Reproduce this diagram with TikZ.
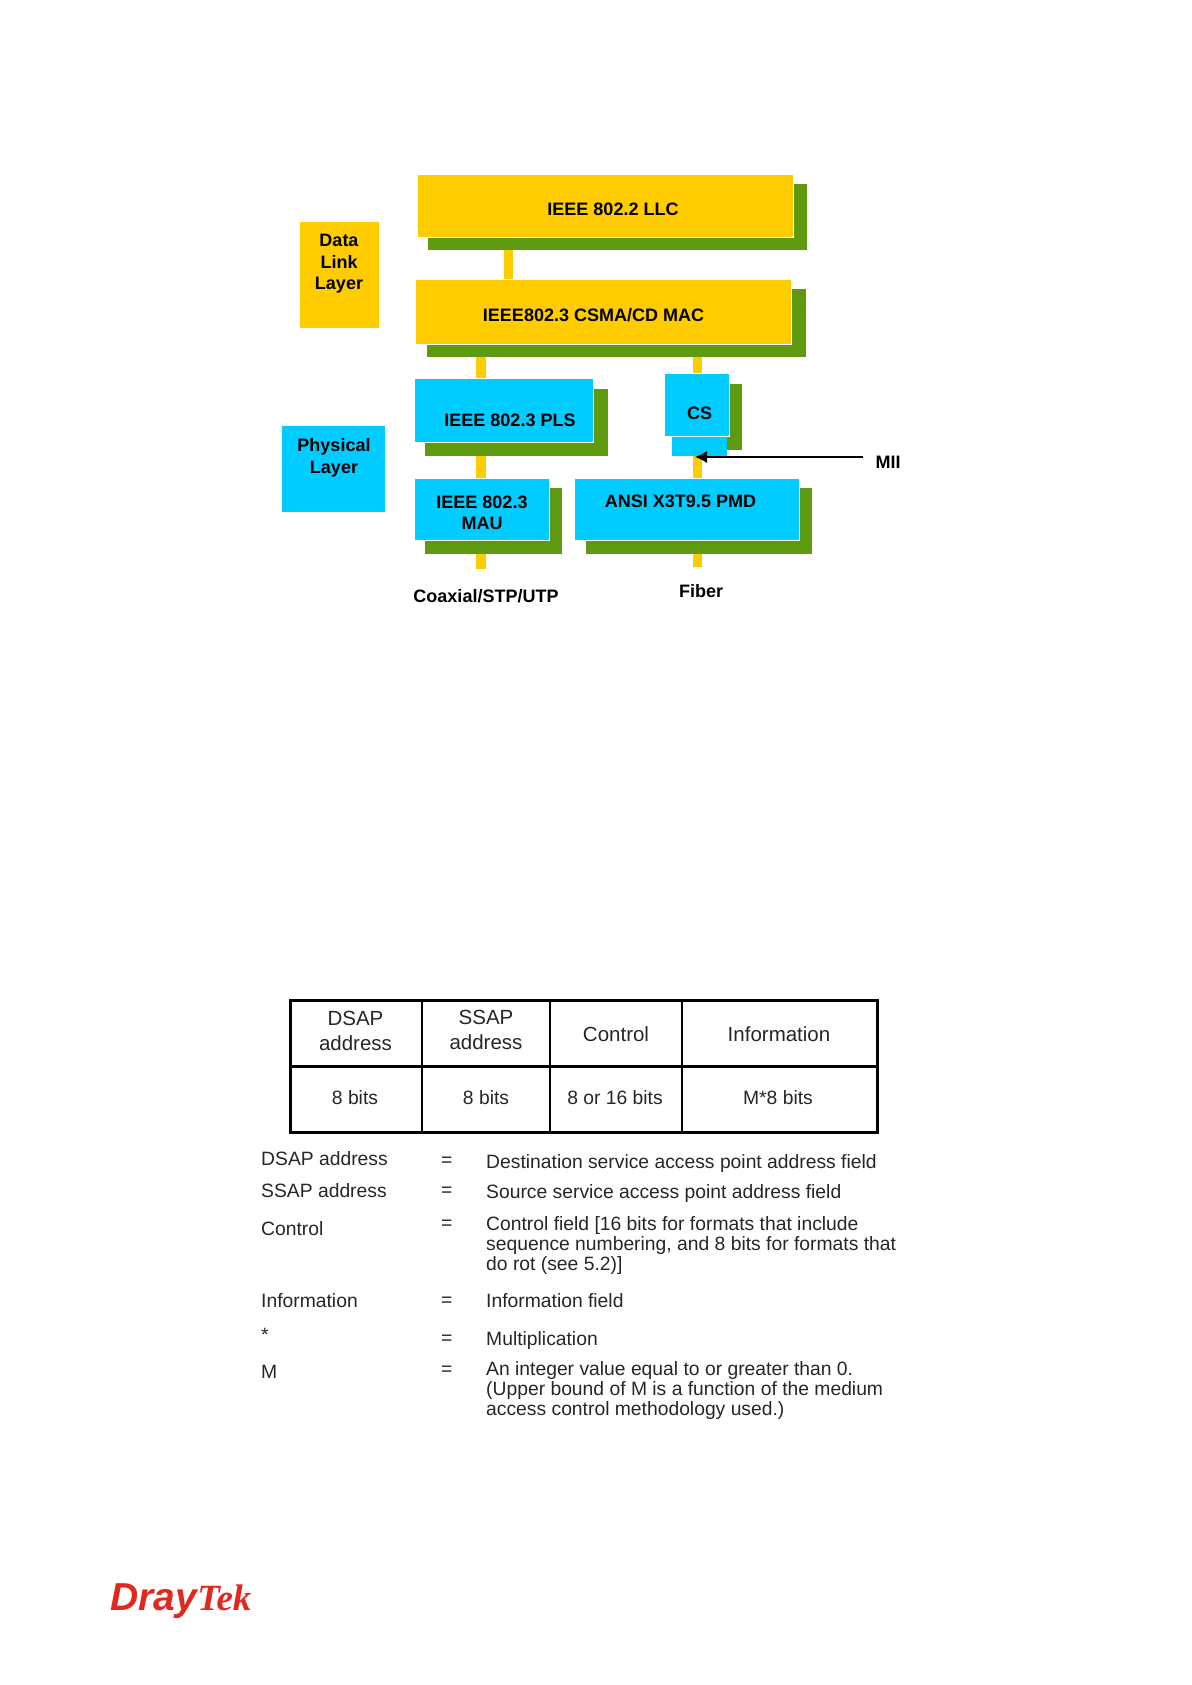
\documentclass[tikz,border=0pt]{standalone}
\usepackage{fontspec}
\setmainfont{Liberation Sans}
\newfontfamily\serifont{Liberation Serif}
\usetikzlibrary{arrows.meta,calc}
\definecolor{ylw}{HTML}{FFCC00}
\definecolor{grn}{HTML}{5F9910}
\definecolor{sky}{HTML}{00CCFF}
\definecolor{logored}{HTML}{E0281E}
\definecolor{ink}{HTML}{262626}
\newcommand{\blk}[6]{\node[#6, minimum width={(#4-#2)*1pt}, minimum height={(#5-#3)*1pt}] (#1) at (#2,#3) {};}
\tikzset{
  blockbase/.style={anchor=north west, inner sep=0pt, outer sep=0pt},
  shadowbox/.style={blockbase, fill=grn},
  ybox/.style={blockbase, fill=ylw, draw=white, line width=0.8pt},
  bbox/.style={blockbase, fill=sky, draw=white, line width=0.8pt},
  flatY/.style={blockbase, fill=ylw},
  flatB/.style={blockbase, fill=sky},
  bar/.style={draw=ylw, line width=9.5pt},
  lbl/.style={inner sep=0pt, align=center, text=black, font=\bfseries\fontsize{18}{21.5}\selectfont},
  cell/.style={inner sep=0pt, align=center, text=ink, font=\fontsize{20.5}{25}\selectfont},
  bits/.style={inner sep=0pt, align=center, text=ink, font=\fontsize{19.3}{25}\selectfont},
  leg/.style={inner sep=0pt, anchor=west, align=left, text=ink, font=\fontsize{19.3}{19.6}\selectfont},
  hb/.style={draw=black, line width=3pt},
  tb/.style={draw=black, line width=1.5pt}
}
\begin{document}
\begin{tikzpicture}[x=1pt,y=-1pt]
\useasboundingbox (0,0) rectangle (1191,1685);
% shadows
\blk{llcS}{428}{184}{806.5}{250}{shadowbox}
\blk{macS}{427}{289}{805.5}{357}{shadowbox}
\blk{plsS}{425}{389}{607.5}{456}{shadowbox}
\blk{csS}{678}{384}{742}{450}{shadowbox}
\blk{mauS}{425}{488}{562}{554}{shadowbox}
\blk{pmdS}{586}{488}{812}{554}{shadowbox}
% connector anchors
\coordinate (xa) at (508.5,0);
\coordinate (xb) at (481,0);
\coordinate (xc) at (697.5,0);
\coordinate (coaxEnd) at (481,569);
\coordinate (fibEnd) at (697.5,567);
% boxes
\blk{llc}{417.6}{174}{793.5}{237.3}{ybox}
\blk{mac}{415.5}{279}{791.5}{344}{ybox}
\blk{pls}{414}{378}{593.5}{442}{bbox}
\blk{csB}{672}{400}{727}{456}{flatB}
\blk{cs}{664}{373}{729}{436}{bbox}
\fill[sky] (csB.north west) rectangle ($(csB.north east)+(0,36)$);
\blk{mau}{414.7}{478}{549}{540}{bbox}
\blk{pmd}{574.5}{478}{799.5}{540}{bbox}
\blk{dll}{299.5}{222}{378.5}{328}{flatY}
\blk{phy}{281.6}{426}{385}{512}{flatB}
% connectors
\draw[bar] (llcS.south -| xa) -- (mac.north -| xa);
\draw[bar] (macS.south -| xb) -- (pls.north -| xb);
\draw[bar] (macS.south -| xc) -- (cs.north -| xc);
\draw[bar] (plsS.south -| xb) -- (mau.north -| xb);
\draw[bar] (csB.south -| xc) -- (pmd.north -| xc);
\draw[bar] (mauS.south -| xb) -- (coaxEnd);
\draw[bar] (pmdS.south -| xc) -- (fibEnd);
% labels
\node[lbl] (tllc) at (613,209) {IEEE 802.2 LLC};
\node[lbl] (tmac) at (593.5,315) {IEEE802.3 CSMA/CD MAC};
\node[lbl] (tpls) at (510,420) {IEEE 802.3 PLS};
\node[lbl] (tcs) at (699.5,413) {CS};
\node[lbl] (tmau) at (482,513) {IEEE 802.3\\MAU};
\node[lbl] (tpmd) at (680.5,501) {ANSI X3T9.5 PMD};
\node[lbl] (tdll) at (339,264) {Data\\Link\\Layer};
\node[lbl] (tphy) at (334,458) {Physical\\Layer};
\node[lbl] (tcoax) at (486,596) {Coaxial/STP/UTP};
\node[lbl] (tfib) at (701,591) {Fiber};
\node[lbl] (tmii) at (888,462) {MII};
\coordinate (miiStart) at (863,457);
\coordinate (miiEnd) at (695,457);
\draw[draw=black, line width=1.2pt, -{Latex[length=12pt,width=12pt]}] (miiStart) -- (miiEnd);
% table
\node[inner sep=0pt, outer sep=0pt, anchor=north west, minimum width=587.5pt, minimum height=132pt, hb] (tbl) at (290,1000.7) {};
\coordinate (r) at (0,1066.7);
\coordinate (v1) at (422,0);
\coordinate (v2) at (550,0);
\coordinate (v3) at (682,0);
\draw[hb] (tbl.west |- r) -- (tbl.east |- r);
\draw[tb] (tbl.north -| v1) -- (tbl.south -| v1);
\draw[tb] (tbl.north -| v2) -- (tbl.south -| v2);
\draw[tb] (tbl.north -| v3) -- (tbl.south -| v3);
\node[cell] (c1) at (355.5,1031) {DSAP\\address};
\node[cell] (c2) at (486,1030) {SSAP\\address};
\node[cell] (c3) at (616,1034) {Control};
\node[cell] (c4) at (779,1034) {Information};
\node[bits] (d1) at (355,1098) {8 bits};
\node[bits] (d2) at (486,1098) {8 bits};
\node[bits] (d3) at (615,1098) {8 or 16 bits};
\node[bits] (d4) at (778,1098) {M*8 bits};
% legend
\node[leg] (a1) at (261,1159) {DSAP address};
\node[leg] (a2) at (261,1190.7) {SSAP address};
\node[leg] (a3) at (261,1229) {Control};
\node[leg] (a4) at (261,1301) {Information};
\node[leg] (a5) at (261,1335) {*};
\node[leg] (a6) at (261,1372) {M};
\node[leg] (e1) at (441,1162) {=};
\node[leg] (e2) at (441,1192) {=};
\node[leg] (e3) at (441,1225) {=};
\node[leg] (e4) at (441,1302) {=};
\node[leg] (e5) at (441,1340) {=};
\node[leg] (e6) at (441,1371) {=};
\node[leg] (b1) at (486,1163) {Destination service access point address field};
\node[leg] (b2) at (486,1193) {Source service access point address field};
\node[leg] (b3) at (486,1245.5) {Control field [16 bits for formats that include\\sequence numbering, and 8 bits for formats that\\do rot (see 5.2)]};
\node[leg] (b4) at (486,1301) {Information field};
\node[leg] (b5) at (486,1340) {Multiplication};
\node[leg] (b6) at (486,1390.5) {An integer value equal to or greater than 0.\\(Upper bound of M is a function of the medium\\access control methodology used.)};
% logo
\node[inner sep=0pt, anchor=base west, text=logored, font=\bfseries\itshape\fontsize{39}{39}\selectfont] (dray) at (110,1610) {Dray};
\node[inner sep=0pt, anchor=base west, text=logored, font=\serifont\bfseries\itshape\fontsize{37}{37}\selectfont] (tek) at (dray.base east) {Tek};
\end{tikzpicture}
\end{document}
